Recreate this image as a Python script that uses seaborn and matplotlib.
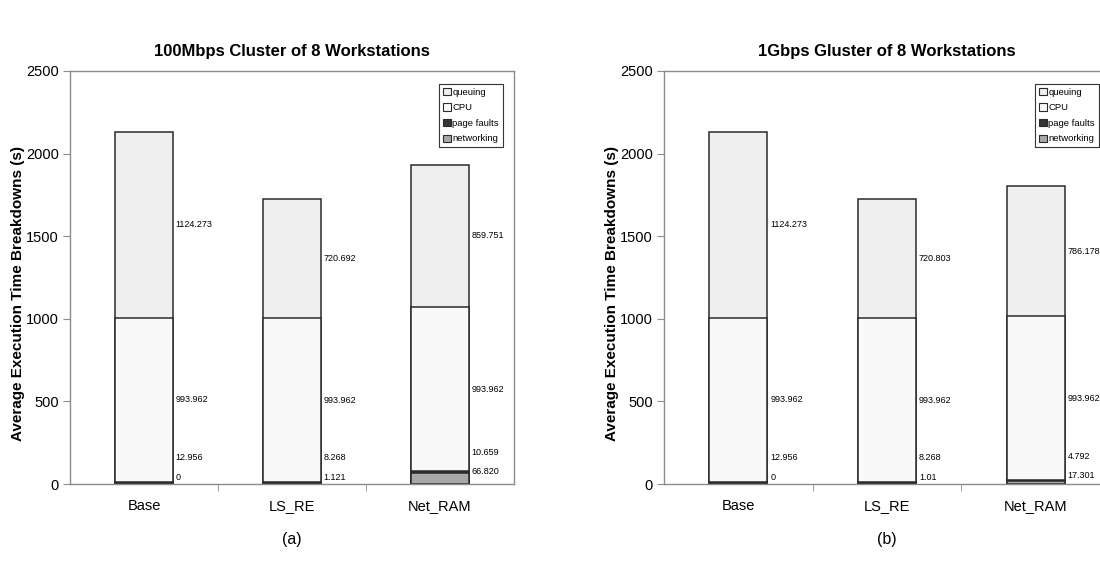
import numpy as np
import pandas as pd
import matplotlib
matplotlib.use("Agg")
import matplotlib.pyplot as plt
from matplotlib.patches import Patch
from matplotlib.ticker import FixedLocator
import seaborn as sns

# ---------------- data ----------------
categories = ["Base", "LS_RE", "Net_RAM"]
series_names = ["queuing", "CPU", "page faults", "networking"]

titles = ["100Mbps Cluster of 8 Workstations", "1Gbps Gluster of 8 Workstations"]
captions = ["(a)", "(b)"]

# panel (a): 100Mbps
a_networking = [0.0, 1.121, 66.820]
a_page_faults = [12.956, 8.268, 10.659]
a_cpu = [993.962, 993.962, 993.962]
a_queuing = [1124.273, 720.692, 859.751]
a_net_text = ["0", "1.121", "66.820"]

# panel (b): 1Gbps
b_networking = [0.0, 1.01, 17.301]
b_page_faults = [12.956, 8.268, 4.792]
b_cpu = [993.962, 993.962, 993.962]
b_queuing = [1124.273, 720.803, 786.178]
b_net_text = ["0", "1.01", "17.301"]

y_ticks = [0, 500, 1000, 1500, 2000, 2500]

# ---------------- style ----------------
sns.set_style("white")
plt.rcParams["font.family"] = ["Liberation Sans", "DejaVu Sans"]
plt.rcParams["text.color"] = "black"
plt.rcParams["axes.labelcolor"] = "black"
plt.rcParams["axes.titlecolor"] = "black"

colors = {
    "queuing": "#efefef",
    "CPU": "#f9f9f9",
    "page faults": "#353535",
    "networking": "#a8a8a8",
}
edge = "#2a2a2a"
spine_col = "#8c8c8c"

fig = plt.figure(figsize=(11, 5.7), dpi=100)
W, H = 1100, 570
ax_a = fig.add_axes([70 / W, (H - 484) / H, 444 / W, 413 / H])
ax_b = fig.add_axes([664 / W, (H - 484) / H, 446 / W, 413 / H])


def draw_panel(ax, nw, pf, cpu, qu, nw_text, title, caption):
    nw = np.array(nw); pf = np.array(pf); cpu = np.array(cpu); qu = np.array(qu)
    top_nw = nw
    top_pf = nw + pf
    top_cpu = top_pf + cpu
    top_qu = top_cpu + qu
    df = pd.DataFrame({"cat": categories, "queuing": top_qu, "CPU": top_cpu,
                       "page faults": top_pf, "networking": top_nw})
    for name in series_names:
        sns.barplot(data=df, x="cat", y=name, color=colors[name], width=0.39,
                    edgecolor=edge, linewidth=1.1, saturation=1, ax=ax,
                    order=categories, errorbar=None)
    # value labels
    for i in range(len(categories)):
        xl = i + 0.215
        nw_y = nw[i] / 2 + 40
        pf_y = nw_y + 120
        ax.text(xl, (top_cpu[i] + top_qu[i]) / 2, f"{qu[i]:.3f}", fontsize=6.5,
                ha="left", va="center")
        ax.text(xl, (top_pf[i] + top_cpu[i]) / 2, f"{cpu[i]:.3f}", fontsize=6.5,
                ha="left", va="center")
        ax.text(xl, pf_y, f"{pf[i]:.3f}", fontsize=6.5, ha="left", va="center")
        ax.text(xl, nw_y, nw_text[i], fontsize=6.5, ha="left", va="center")

    ax.set_ylim(0, 2500)
    ax.set_xlim(-0.5, len(categories) - 0.5)
    ax.set_yticks(y_ticks)
    ax.set_yticklabels([str(t) for t in y_ticks], fontsize=10.5)
    ax.set_xticks(range(len(categories)))
    ax.set_xticklabels(categories, fontsize=10.5)
    ax.tick_params(axis="x", which="major", length=0, pad=11, labelcolor="black")
    ax.xaxis.set_minor_locator(FixedLocator([0.5, 1.5]))
    ax.tick_params(axis="x", which="minor", length=5, direction="out",
                   color=spine_col, bottom=True)
    ax.tick_params(axis="y", length=5, direction="out", color=spine_col,
                   left=True, pad=3, labelcolor="black")
    ax.set_xlabel("")
    ax.set_ylabel("Average Execution Time Breakdowns (s)", fontsize=11,
                  fontweight="bold")
    ax.yaxis.set_label_coords(-0.101, 0.461)
    for s in ax.spines.values():
        s.set_visible(True)
        s.set_color(spine_col)
        s.set_linewidth(1.0)
    ax.set_title(title, fontsize=12, fontweight="bold", pad=11)
    ax.text(0.5, -0.135, caption, transform=ax.transAxes, ha="center",
            va="center", fontsize=11.5)

    handles = [Patch(facecolor=colors[n], edgecolor=edge, linewidth=0.8, label=n)
               for n in series_names]
    leg = ax.legend(handles=handles, loc="upper right",
                    bbox_to_anchor=(0.975, 0.969), borderaxespad=0,
                    fontsize=6.8, frameon=True, fancybox=False, framealpha=1,
                    handlelength=0.8, handleheight=0.8, handletextpad=0.2,
                    labelspacing=0.7, borderpad=0.4)
    leg.get_frame().set_edgecolor("#333333")
    leg.get_frame().set_linewidth(0.8)


draw_panel(ax_a, a_networking, a_page_faults, a_cpu, a_queuing, a_net_text,
           titles[0], captions[0])
draw_panel(ax_b, b_networking, b_page_faults, b_cpu, b_queuing, b_net_text,
           titles[1], captions[1])

fig.savefig("out.png", dpi=100)
